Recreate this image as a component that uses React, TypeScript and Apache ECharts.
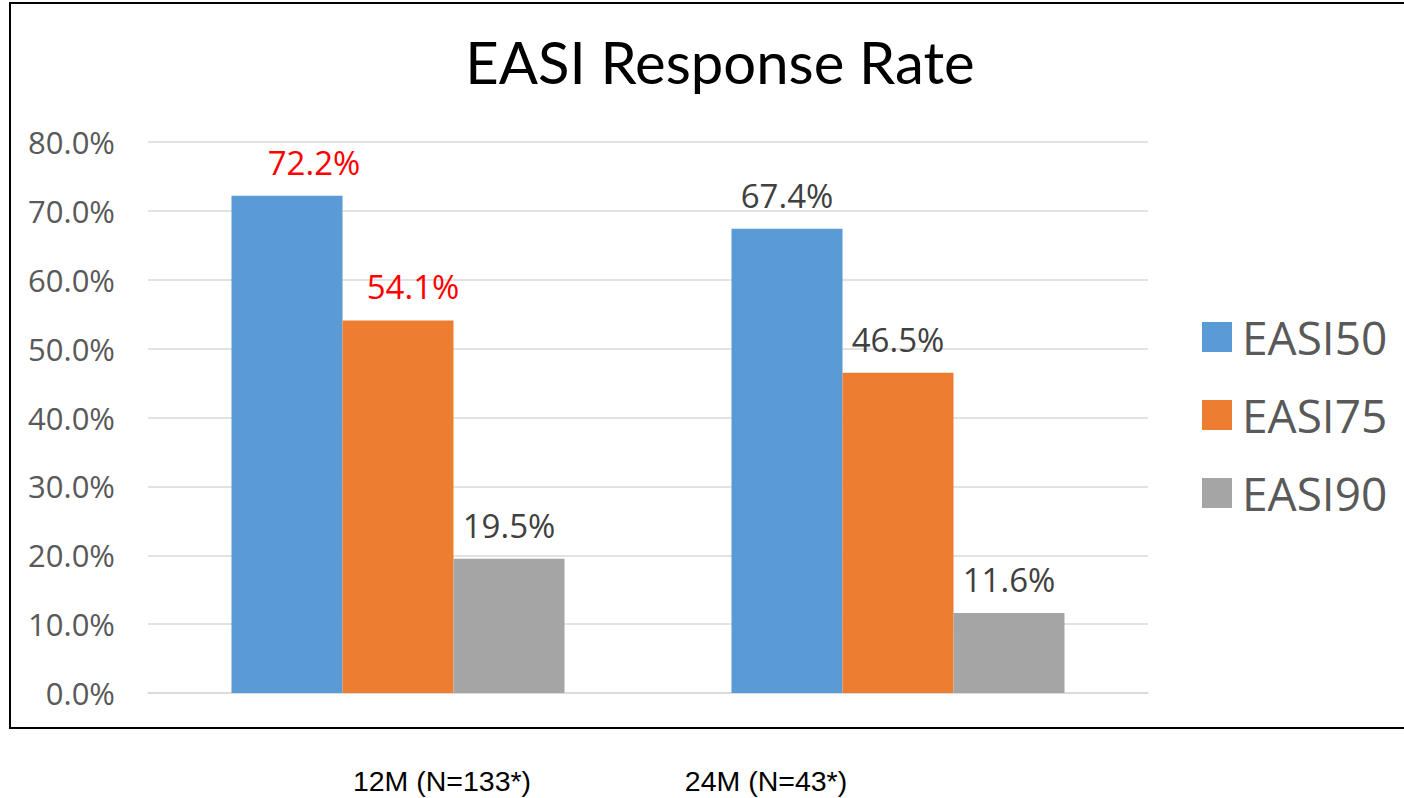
import React, { useEffect, useRef } from "react";
import * as echarts from "echarts";

const categories = ["12M (N=133*)", "24M (N=43*)"];
const seriesNames = ["EASI50", "EASI75", "EASI90"];
const easi50 = [72.2, 67.4];
const easi75 = [54.1, 46.5];
const easi90 = [19.5, 11.6];
const highlighted = [
  [true, false],
  [true, false],
  [false, false],
];
const labelShiftX = [
  [27, 0],
  [15, 0],
  [0, 0],
];
const colors = ["#5B9BD5", "#ED7D31", "#A5A5A5"];
const title = "EASI Response Rate";

export default function App() {
  const ref = useRef<HTMLDivElement>(null);
  useEffect(() => {
    if (!ref.current) return;
    const chart = echarts.init(ref.current, undefined, { renderer: "svg" });
    const values = [easi50, easi75, easi90];
    const series = values.map((vals, si) => ({
      name: seriesNames[si],
      type: "bar",
      barGap: "0%",
      barCategoryGap: "33.4%",
      itemStyle: { color: colors[si] },
      data: vals.map((v, ci) => ({
        value: v,
        label: {
          color: highlighted[si][ci] ? "#FF0000" : "#404040",
          offset: [labelShiftX[si][ci], 0],
        },
      })),
      label: {
        show: true,
        position: "top",
        distance: 17,
        fontFamily: "Open Sans",
        fontSize: 33,
        formatter: (p: any) => `${Number(p.value).toFixed(1)}%`,
      },
    }));
    chart.setOption({
      animation: false,
      title: {
        text: title,
        left: 715,
        textAlign: "center",
        top: 27,
        textStyle: {
          fontFamily: "Lato",
          fontWeight: "normal",
          fontSize: 58,
          color: "#000000",
        },
      },
      legend: {
        orient: "vertical",
        left: 1197,
        top: 309,
        itemWidth: 30,
        itemHeight: 30,
        itemGap: 32,
        icon: "rect",
        textStyle: {
          fontFamily: "Open Sans",
          fontSize: 46,
          color: "#595959",
          padding: [0, 0, 0, 5],
        },
        data: seriesNames,
      },
      grid: { left: 148, right: 256, top: 142, bottom: 105 },
      xAxis: {
        type: "category",
        data: categories,
        axisLine: { show: true, lineStyle: { color: "#D9D9D9", width: 1.5 } },
        axisTick: { show: false },
        axisLabel: { show: false },
      },
      yAxis: {
        type: "value",
        min: 0,
        max: 80,
        interval: 10,
        axisLine: { show: false },
        axisTick: { show: false },
        splitLine: { lineStyle: { color: "#D9D9D9", width: 1.5 } },
        axisLabel: {
          margin: 33,
          fontFamily: "Open Sans",
          fontSize: 31,
          color: "#595959",
          formatter: (v: number) => `${v.toFixed(1)}%`,
        },
      },
      graphic: [
        {
          type: "rect",
          shape: { x: 10, y: 3, width: 1420, height: 725 },
          style: { fill: "none", stroke: "#000000", lineWidth: 2 },
          silent: true,
        },
        {
          type: "text",
          x: 442,
          y: 781,
          style: {
            text: categories[0],
            fontFamily: "Liberation Sans",
            fontSize: 28.5,
            fill: "#000000",
            textAlign: "center",
            textVerticalAlign: "middle",
          },
        },
        {
          type: "text",
          x: 766,
          y: 781,
          style: {
            text: categories[1],
            fontFamily: "Liberation Sans",
            fontSize: 28.5,
            fill: "#000000",
            textAlign: "center",
            textVerticalAlign: "middle",
          },
        },
      ],
      series,
    });
    return () => chart.dispose();
  }, []);
  return (
    <div
      ref={ref}
      style={{ position: "fixed", left: 0, top: 0, width: 1404, height: 798, background: "#ffffff" }}
    />
  );
}
